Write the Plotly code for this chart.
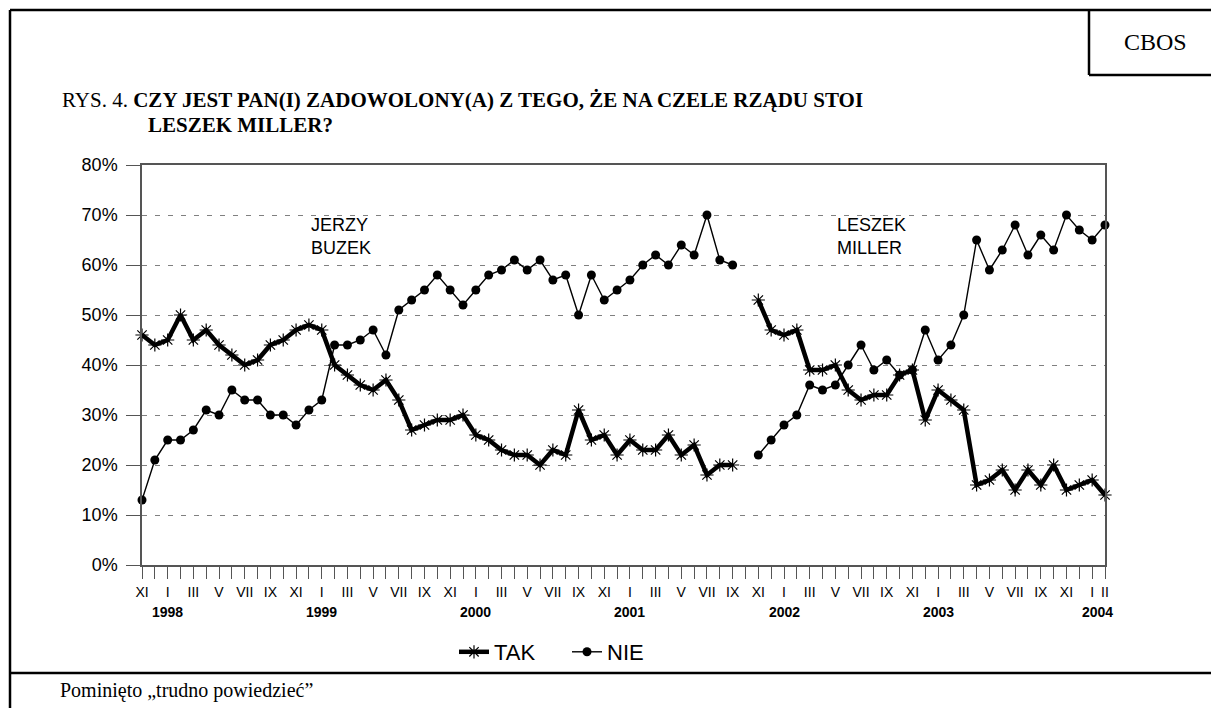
import plotly.graph_objects as go

# ---- data (monthly, XI 1997 .. II 2004) ----
ROMAN = ["I", "II", "III", "IV", "V", "VI", "VII", "VIII", "IX", "X", "XI", "XII"]
START_MONTH = 11  # November
START_YEAR = 1997
N_MONTHS = 76

TAK = [46, 44, 45, 50, 45, 47, 44, 42, 40, 41, 44, 45, 47, 48, 47, 40, 38, 36, 35, 37,
       33, 27, 28, 29, 29, 30, 26, 25, 23, 22, 22, 20, 23, 22, 31, 25, 26, 22, 25, 23,
       23, 26, 22, 24, 18, 20, 20, None, 53, 47, 46, 47, 39, 39, 40, 35, 33, 34, 34, 38,
       39, 29, 35, 33, 31, 16, 17, 19, 15, 19, 16, 20, 15, 16, 17, 14]
NIE = [13, 21, 25, 25, 27, 31, 30, 35, 33, 33, 30, 30, 28, 31, 33, 44, 44, 45, 47, 42,
       51, 53, 55, 58, 55, 52, 55, 58, 59, 61, 59, 61, 57, 58, 50, 58, 53, 55, 57, 60,
       62, 60, 64, 62, 70, 61, 60, None, 22, 25, 28, 30, 36, 35, 36, 40, 44, 39, 41, 38,
       39, 47, 41, 44, 50, 65, 59, 63, 68, 62, 66, 63, 70, 67, 65, 68]
YEAR_LABELS = ["1998", "1999", "2000", "2001", "2002", "2003", "2004"]

x = list(range(N_MONTHS))
month_of = [(START_MONTH - 1 + i) % 12 for i in x]
ticktext = []
for i in x:
    if i % 2 == 0 or i == N_MONTHS - 1:
        ticktext.append(ROMAN[month_of[i]])
    else:
        ticktext.append("")
jan_idx = [i for i in x if month_of[i] == 0]

SANS = "Liberation Sans, Arial, sans-serif"
SERIF = "Liberation Serif, Times New Roman, serif"

fig = go.Figure()
fig.add_trace(go.Scatter(
    x=x, y=TAK, name="TAK", mode="lines+markers", cliponaxis=False, legend="legend",
    line=dict(color="black", width=4.5),
    marker=dict(symbol="asterisk-open", size=11, color="black", line=dict(color="black", width=1.2)),
))
fig.add_trace(go.Scatter(
    x=x, y=NIE, name="NIE", mode="lines+markers", cliponaxis=False, legend="legend2",
    line=dict(color="black", width=1.4),
    marker=dict(symbol="circle", size=9, color="black"),
))

W, H = 1211, 708
L, R, T, B = 142, 106, 165, 143
PW, PH = W - L - R, H - T - B

def px(xp):
    return (xp - L) / PW

def py(yp):
    return (H - B - yp) / PH

annotations = []
for yl, idx in zip(YEAR_LABELS, jan_idx):
    annotations.append(dict(
        x=idx, y=py(612), xref="x", yref="paper", text="<b>%s</b>" % yl,
        showarrow=False, font=dict(family=SANS, size=14, color="black"),
        xanchor="center", yanchor="middle", xshift=5 if idx == jan_idx[-1] else 0))

annotations += [
    dict(x=13.0, y=65.8, xref="x", yref="y", text="JERZY<br>BUZEK", showarrow=False,
         align="left", xanchor="left", yanchor="middle",
         font=dict(family=SANS, size=18, color="black")),
    dict(x=54.0, y=65.8, xref="x", yref="y", text="LESZEK<br>MILLER", showarrow=False,
         align="left", xanchor="left", yanchor="middle",
         font=dict(family=SANS, size=18, color="black")),
    dict(x=px(60), y=py(100), xref="paper", yref="paper",
         text="RYS. 4. <b>CZY JEST PAN(I) ZADOWOLONY(A) Z TEGO, ŻE NA CZELE RZĄDU STOI</b>",
         showarrow=False, xanchor="left", yanchor="middle",
         font=dict(family=SERIF, size=21, color="black")),
    dict(x=px(146), y=py(125), xref="paper", yref="paper",
         text="<b>LESZEK MILLER?</b>",
         showarrow=False, xanchor="left", yanchor="middle",
         font=dict(family=SERIF, size=21, color="black")),
    dict(x=px(1155), y=py(42), xref="paper", yref="paper", text="CBOS",
         showarrow=False, xanchor="center", yanchor="middle",
         font=dict(family=SERIF, size=24, color="black")),
    dict(x=px(58), y=py(690), xref="paper", yref="paper",
         text="Pominięto „trudno powiedzieć”",
         showarrow=False, xanchor="left", yanchor="middle",
         font=dict(family=SERIF, size=20, color="black")),
]

line_style = dict(color="black", width=2.5)
shapes = [
    dict(type="line", xref="paper", yref="paper", x0=px(10), x1=px(W + 5), y0=py(10), y1=py(10), line=line_style),
    dict(type="line", xref="paper", yref="paper", x0=px(10), x1=px(10), y0=py(10), y1=py(H + 5), line=line_style),
    dict(type="line", xref="paper", yref="paper", x0=px(10), x1=px(W + 5), y0=py(673), y1=py(673), line=line_style),
    dict(type="line", xref="paper", yref="paper", x0=px(1089), x1=px(1089), y0=py(10), y1=py(75), line=line_style),
    dict(type="line", xref="paper", yref="paper", x0=px(1089), x1=px(W + 5), y0=py(75), y1=py(75), line=line_style),
]

legend_common = dict(orientation="h", y=py(652), xanchor="left", yanchor="middle",
                     font=dict(family=SANS, size=22, color="black"),
                     itemwidth=30, bgcolor="rgba(0,0,0,0)")

fig.update_layout(
    width=W, height=H,
    margin=dict(l=L, r=R, t=T, b=B, pad=0),
    paper_bgcolor="white", plot_bgcolor="white",
    font=dict(family=SANS, color="black"),
    showlegend=True,
    legend=dict(x=px(454), **legend_common),
    legend2=dict(x=px(567), **legend_common),
    annotations=annotations,
    shapes=shapes,
    xaxis=dict(range=[0, N_MONTHS - 1], tickmode="array", tickvals=x, ticktext=ticktext,
               ticks="outside", ticklen=12, tickcolor="#555", tickwidth=1,
               showline=True, linecolor="#555", linewidth=1.5, mirror=True,
               showgrid=False, zeroline=False, tickangle=0,
               ticklabelstandoff=1,
               tickfont=dict(family=SANS, size=14, color="black")),
    yaxis=dict(range=[0, 80], tickmode="linear", dtick=10, ticksuffix="%",
               ticks="outside", ticklen=14, tickcolor="#555", tickwidth=1,
               showline=True, linecolor="#555", linewidth=1.5, mirror=True,
               showgrid=True, gridcolor="#808080", gridwidth=1, griddash="5px,8px",
               zeroline=False, ticklabelstandoff=5,
               tickfont=dict(family=SANS, size=18, color="black")),
)

fig.write_html("out.html", config={"displayModeBar": False},
               post_script="document.body.style.margin='0';document.body.style.padding='0';")
